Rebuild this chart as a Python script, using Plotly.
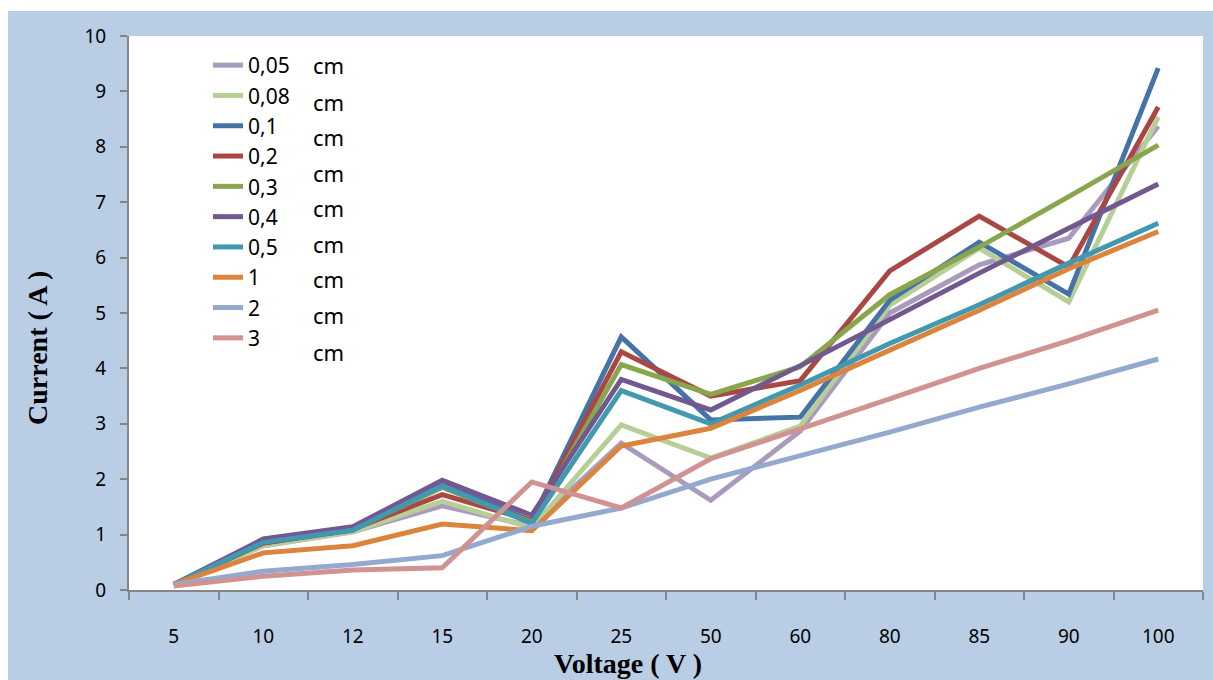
import plotly.graph_objects as go

categories = ["5", "10", "12", "15", "20", "25", "50", "60", "80", "85", "90", "100"]
series_names = ["0,05", "0,08", "0,1", "0,2", "0,3", "0,4", "0,5", "1", "2", "3"]

s_005 = [0.1, 0.8, 1.05, 1.52, 1.15, 2.65, 1.62, 2.87, 5.0, 5.87, 6.35, 8.37]
s_008 = [0.1, 0.8, 1.05, 1.6, 1.12, 2.98, 2.38, 2.96, 5.14, 6.17, 5.2, 8.54]
s_01 = [0.1, 0.85, 1.08, 1.9, 1.25, 4.57, 3.07, 3.12, 5.23, 6.28, 5.34, 9.42]
s_02 = [0.1, 0.85, 1.1, 1.72, 1.25, 4.3, 3.5, 3.78, 5.76, 6.75, 5.83, 8.72]
s_03 = [0.1, 0.88, 1.1, 1.85, 1.22, 4.07, 3.53, 4.03, 5.33, 6.19, 7.1, 8.03]
s_04 = [0.1, 0.92, 1.14, 1.98, 1.35, 3.8, 3.25, 4.05, 4.88, 5.72, 6.53, 7.33]
s_05 = [0.1, 0.86, 1.08, 1.88, 1.2, 3.6, 3.0, 3.7, 4.45, 5.15, 5.9, 6.62]
s_1 = [0.1, 0.67, 0.8, 1.19, 1.07, 2.6, 2.92, 3.6, 4.33, 5.05, 5.8, 6.47]
s_2 = [0.1, 0.34, 0.46, 0.62, 1.15, 1.48, 2.0, 2.42, 2.85, 3.3, 3.72, 4.17]
s_3 = [0.07, 0.25, 0.36, 0.4, 1.95, 1.48, 2.37, 2.9, 3.45, 4.0, 4.5, 5.05]

all_series = [s_005, s_008, s_01, s_02, s_03, s_04, s_05, s_1, s_2, s_3]
colors = ["#a99bbd", "#b7cf96", "#4572a7", "#aa4643", "#89a54e",
          "#71588f", "#4198af", "#db843d", "#93a9cf", "#d19392"]

fig = go.Figure()
for name, vals, col in zip(series_names, all_series, colors):
    fig.add_trace(go.Scatter(x=categories, y=vals, name=name, mode="lines",
                             line=dict(color=col, width=5)))

W, H = 1213, 680
L, R, T, B = 129, 10, 36, 90
pw, ph = W - L - R, H - T - B

def px(x):
    return (x - L) / pw

def py(y):
    return (H - B - y) / ph

shapes = [
    dict(type="rect", xref="paper", yref="paper", x0=px(8), x1=px(1216),
         y0=py(684), y1=py(11), fillcolor="#b9cde5", line=dict(width=0), layer="below"),
    dict(type="rect", xref="paper", yref="paper", x0=0, x1=1, y0=0, y1=1,
         fillcolor="white", line=dict(width=0), layer="below"),
]

cm_y = [65, 102, 137, 173, 208, 244, 279, 315, 352]
annotations = [
    dict(text="cm", xref="paper", yref="paper", x=px(311), y=py(yy), xanchor="left",
         yanchor="middle", showarrow=False, font=dict(family="Noto Sans", size=22, color="black"))
    for yy in cm_y
]
annotations.append(dict(text="<b>Voltage ( V )</b>", xref="paper", yref="paper",
                        x=px(628), y=py(663), xanchor="center", yanchor="middle",
                        showarrow=False,
                        font=dict(family="Liberation Serif", size=28, color="black")))
annotations.append(dict(text="<b>Current ( A )</b>", xref="paper", yref="paper",
                        x=px(37), y=py(348), xanchor="center", yanchor="middle",
                        showarrow=False, textangle=-90,
                        font=dict(family="Liberation Serif", size=28, color="black")))

fig.update_layout(
    width=W, height=H, autosize=False,
    margin=dict(l=L, r=R, t=T, b=B),
    paper_bgcolor="white",
    plot_bgcolor="white",
    shapes=shapes,
    annotations=annotations,
    showlegend=True,
    legend=dict(x=px(208), y=py(45), xanchor="left", yanchor="top",
                bgcolor="rgba(0,0,0,0)", font=dict(family="Noto Sans", size=21, color="black"),
                tracegroupgap=0),
    xaxis=dict(type="category", range=[-0.5, 11.5], showgrid=False, showline=True,
               linecolor="#868686", linewidth=2,
               ticks="outside", tickson="boundaries", ticklen=8, tickcolor="#868686", tickwidth=2,
               ticklabelstandoff=28,
               tickfont=dict(family="Noto Sans", size=19, color="black")),
    yaxis=dict(range=[0, 10], dtick=1, showgrid=False, showline=True, linecolor="#868686",
               linewidth=2, ticks="outside", ticklen=7, tickcolor="#868686", tickwidth=2,
               zeroline=False, ticklabelstandoff=10,
               tickfont=dict(family="Noto Sans", size=19, color="black")),
)

fig.write_html("out.html")
